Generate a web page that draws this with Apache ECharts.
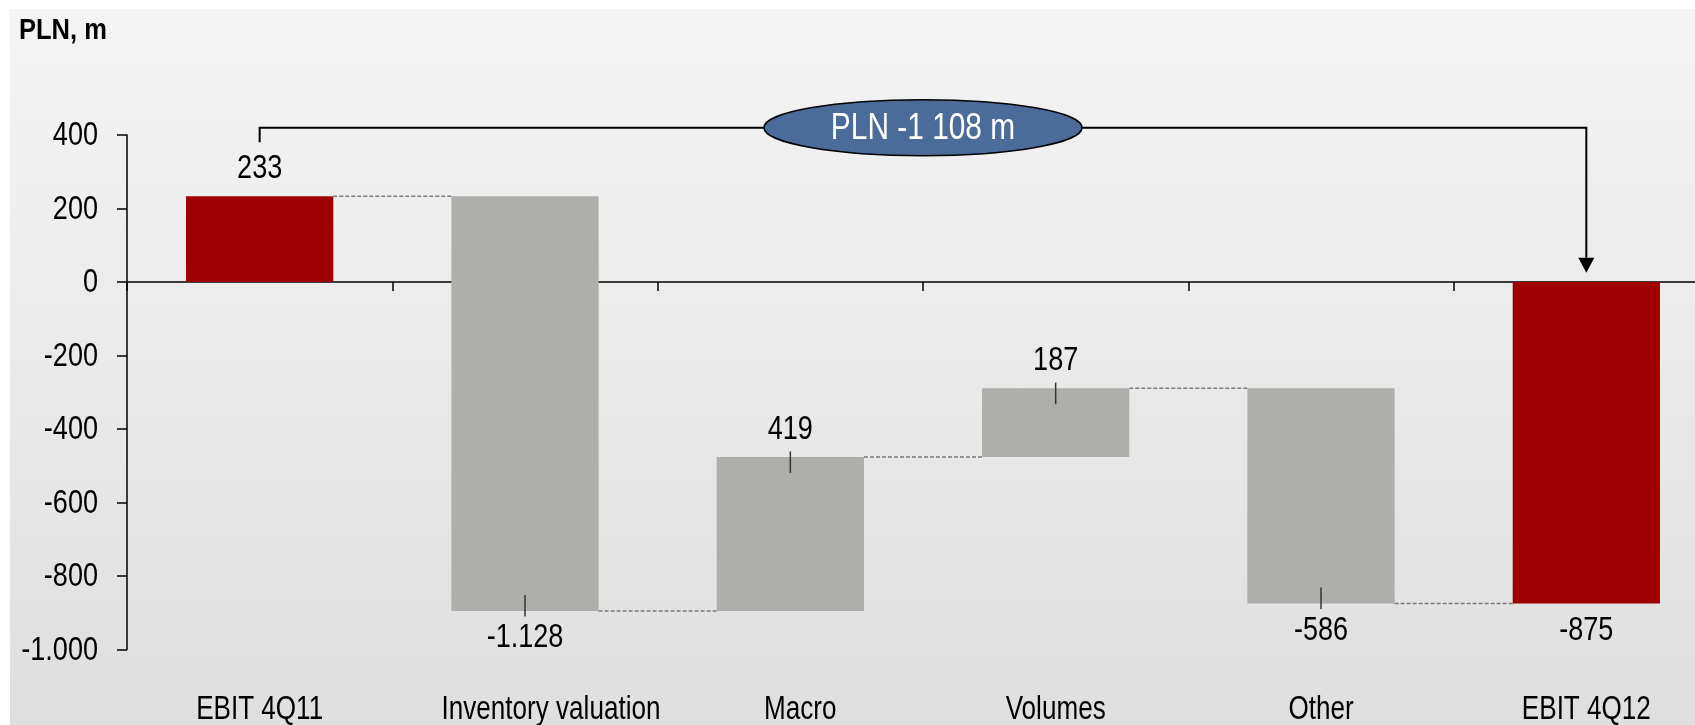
<!DOCTYPE html>
<html>
<head>
<meta charset="utf-8">
<script src="https://cdn.jsdelivr.net/npm/echarts@6/dist/echarts.min.js"></script>
<style>
  html, body { margin: 0; padding: 0; background: #ffffff; }
  #wrap { position: relative; width: 1695px; height: 725px; overflow: hidden; }
  #panel { position: absolute; left: 10px; top: 9px; right: 0; bottom: 0;
           background: linear-gradient(to bottom, #f4f4f4 0%, #dfdfdf 100%); }
  #chart { position: absolute; left: 0; top: 0; width: 1695px; height: 725px; }
</style>
</head>
<body>
<div id="wrap"><div id="panel"></div><div id="chart"></div></div>
<script>
// EBIT bridge, PLN m
const categories = ['EBIT 4Q11', 'Inventory valuation', 'Macro', 'Volumes', 'Other', 'EBIT 4Q12'];
const deltas = [233, -1128, 419, 187, -586, -875];
const totalFlags = [true, false, false, false, false, true];
const yTickValues = [-1000, -800, -600, -400, -200, 0, 200, 400];
const unitTitle = 'PLN, m';
const bridgeLabel = 'PLN -1 108 m';
// bracket: rise start, top run, arrow tip (value-axis units)
const bracketLevels = [380, 420, 25];

// layout: horizontal nudge (px) of each category name
const categoryLabelNudge = [0, 26, 10, 0, 0, 0];

const FONT = "'Liberation Sans', Arial, sans-serif";
const RED = '#9e0000';
const GREY = '#aeafaa';
const yMin = yTickValues[0];
const yMax = yTickValues[yTickValues.length - 1];
const yStep = yTickValues[1] - yTickValues[0];

function fmt(v) {
  const s = Math.abs(v).toString().replace(/\B(?=(\d{3})+(?!\d))/g, '.');
  return (v < 0 ? '-' : '') + s;
}

// narrow text: regular face squeezed horizontally around its anchor
function narrowText(text, x, y, opts) {
  return {
    type: 'text', x: x, y: y, scaleX: opts.scaleX || 0.82,
    style: {
      text: text, x: 0, y: 0,
      align: opts.align || 'center', verticalAlign: 'middle',
      fontSize: opts.fontSize || 33, fontFamily: FONT,
      fontWeight: opts.fontWeight || 'normal',
      fill: opts.fill || '#000000'
    }
  };
}

// floating bar extents
const rows = [];
let running = 0;
deltas.forEach((d, i) => {
  let start, end;
  if (totalFlags[i]) { start = 0; end = d; }
  else { start = running; end = running + d; }
  running = end;
  rows.push([i, start, end, d, totalFlags[i] ? 1 : 0]);
});
const n = categories.length;

function renderBar(params, api) {
  const i = api.value(0);
  const start = api.value(1), end = api.value(2), delta = api.value(3), total = api.value(4);
  const band = api.size([1, 0])[0];
  const w = band * 0.555;
  const pTop = api.coord([i, Math.max(start, end)]);
  const pBot = api.coord([i, Math.min(start, end)]);
  const cx = pTop[0];
  const x0 = cx - w / 2;
  const children = [{
    type: 'rect',
    shape: { x: x0, y: pTop[1], width: w, height: pBot[1] - pTop[1] },
    style: { fill: total ? RED : GREY }
  }];
  const up = delta >= 0;
  const edgeY = up ? pTop[1] : pBot[1];
  const dir = up ? -1 : 1;
  if (!total) {
    children.push({
      type: 'line',
      shape: { x1: cx, y1: edgeY + dir * 5.5, x2: cx, y2: edgeY - dir * 16 },
      style: { stroke: '#333333', lineWidth: 1.5 }
    });
  }
  children.push(narrowText(fmt(delta), cx, edgeY + dir * 27, {}));
  // category name under the plot area
  const baseY = api.coord([i, yMin])[1];
  children.push(narrowText(categories[i], cx + categoryLabelNudge[i], baseY + 60.5, { scaleX: 0.79 }));
  if (i < n - 1) {
    const p = api.coord([i, end]);
    const q = api.coord([i + 1, end]);
    children.push({
      type: 'line',
      shape: { x1: x0 + w, y1: p[1], x2: q[0] - w / 2, y2: p[1] },
      style: { stroke: '#7a7a7a', lineWidth: 1.5, lineDash: [4, 2] }
    });
  }
  return { type: 'group', children };
}

function renderTickLabel(params, api) {
  const v = api.value(1);
  const band = api.size([1, 0])[0];
  const p = api.coord([0, v]);
  const axisX = p[0] - band / 2;
  return narrowText(fmt(v), axisX - 29, p[1] + 1, { align: 'right' });
}

function renderBridge(params, api) {
  const a = api.coord([0, bracketLevels[0]]);
  const b = api.coord([0, bracketLevels[1]]);
  const c = api.coord([n - 1, bracketLevels[1]]);
  const d = api.coord([n - 1, bracketLevels[2]]);
  const mid = (b[0] + c[0]) / 2;
  return {
    type: 'group',
    children: [
      { type: 'polyline', shape: { points: [a, b, c, [d[0], d[1] - 15]] },
        style: { stroke: '#000000', lineWidth: 2, fill: null } },
      { type: 'polygon', shape: { points: [[d[0] - 8, d[1] - 15], [d[0] + 8, d[1] - 15], d] },
        style: { fill: '#000000' } },
      { type: 'ellipse', shape: { cx: mid, cy: b[1], rx: 159, ry: 28 },
        style: { fill: '#4b6b9b', stroke: '#000000', lineWidth: 1.5 } },
      narrowText(bridgeLabel, mid, b[1] + 1, { fontSize: 36, scaleX: 0.83, fill: '#ffffff' })
    ]
  };
}

const chart = echarts.init(document.getElementById('chart'), null, { renderer: 'canvas' });
chart.setOption({
  animation: false,
  backgroundColor: 'transparent',
  graphic: [
    narrowText(unitTitle, 19, 31, { align: 'left', fontSize: 29, fontWeight: 'bold', scaleX: 0.88 })
  ],
  grid: { left: 127, top: 135, width: 1592, height: 514.5, containLabel: false, outerBoundsMode: 'none' },
  xAxis: {
    type: 'category', data: categories,
    axisLine: { onZero: true, lineStyle: { color: '#000000', width: 1.5 } },
    axisTick: { show: true, length: 9, lineStyle: { color: '#000000', width: 1.5 } },
    axisLabel: { show: false },
    splitLine: { show: false }
  },
  yAxis: {
    type: 'value', min: yMin, max: yMax, interval: yStep,
    axisLine: { show: true, lineStyle: { color: '#000000', width: 1.5 } },
    axisTick: { show: true, length: 10, lineStyle: { color: '#000000', width: 1.5 } },
    axisLabel: { show: false },
    splitLine: { show: false }
  },
  series: [{
    type: 'custom', renderItem: renderBar, data: rows,
    encode: { x: 0, y: [1, 2] }, clip: false, silent: true
  }, {
    type: 'custom', renderItem: renderTickLabel,
    data: yTickValues.map(v => [0, v]),
    encode: { x: 0, y: 1 }, clip: false, silent: true
  }, {
    type: 'custom', renderItem: renderBridge, data: [[0, bracketLevels[1]]],
    encode: { x: 0, y: 1 }, clip: false, silent: true, z: 3
  }]
});
</script>
</body>
</html>
